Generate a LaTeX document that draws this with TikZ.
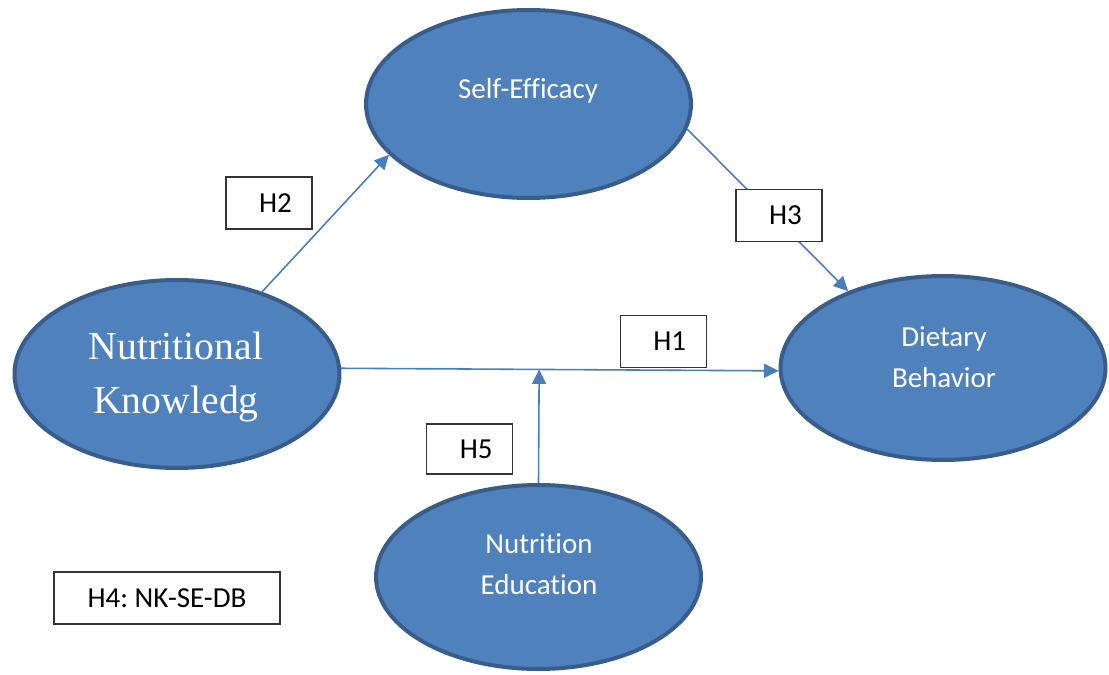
\documentclass[tikz,border=0pt]{standalone}
\usepackage{fontspec}
\setmainfont{Carlito}[Ligatures=NoCommon]
\newfontfamily\timesfont{Liberation Serif}
\usetikzlibrary{shapes.geometric,arrows.meta,calc}
\frenchspacing

\definecolor{bubblefill}{HTML}{4F81BD}
\definecolor{bubbleline}{HTML}{385D8A}
\definecolor{linkline}{HTML}{4A7EBB}

\begin{document}
\begin{tikzpicture}[
    x=0.02cm, y=-0.02cm,
    bubble/.style={
        ellipse,
        draw=bubbleline,
        fill=bubblefill,
        line width=0.08cm,
        minimum width=6.5cm,
        minimum height=3.76cm,
        inner sep=0pt
    },
    bubbletext/.style={
        text=white,
        align=center,
        font=\fontsize{16.5}{23.3}\selectfont
    },
    hyp/.style={
        draw=black!80,
        fill=white,
        line width=0.6pt,
        minimum width=1.72cm,
        minimum height=1.04cm,
        inner sep=0pt,
        font=\fontsize{16.5}{20}\selectfont
    },
    link/.style={
        draw=linkline,
        line width=0.9pt,
        -{Triangle[length=0.29cm,width=0.28cm]}
    }
]

\useasboundingbox (0,0) rectangle (1109,675);

% ------------------------------------------------
% Constructs
% ------------------------------------------------
\node[bubble] (SE) at (528.5,104) {};
\node[bubble] (NK) at (177,374) {};
\node[bubble,minimum height=3.68cm] (DB) at (943,368) {};
\node[bubble,minimum height=3.68cm] (NE) at (538.5,577) {};

\node[bubbletext] (SEt) at (528,91) {Self-Efficacy};
\node[bubbletext,font=\timesfont\fontsize{22.6}{31.2}\selectfont]
    (NKt) at (176,377) {Nutritional\\Knowledg};
\node[bubbletext] (DBt) at (944,357) {Dietary\\Behavior};
\node[bubbletext] (NEt) at (539,564) {Nutrition\\Education};

% ------------------------------------------------
% Hypothesised paths
% ------------------------------------------------
\draw[link] (NK.44.7) -- (SE.200);
\draw[link] (SE.-9.5) -- (DB.141);
\draw[link] (NK.2.4) -- (DB.181.5);

% moderator points at the NK -> DB path
\coordinate (H5end) at ($(NK.2.4)!(NE.north)!(DB.181.5)$);
\draw[link] (NE.north) -- (H5end);

% ------------------------------------------------
% Hypothesis labels
% ------------------------------------------------
\node[hyp] (H2) at (269,203) {\hspace{0.26cm}H2};
\node[hyp] (H3) at (779,215.5) {\hspace{0.26cm}H3};
\node[hyp] (H1) at (663.3,341.3) {\hspace{0.26cm}H1};
\node[hyp,minimum height=1cm] (H5) at (469.7,449) {\hspace{0.26cm}H5};
\node[hyp,minimum width=4.52cm] (H4) at (167,598) {H4: NK-SE-DB};

\end{tikzpicture}
\end{document}
